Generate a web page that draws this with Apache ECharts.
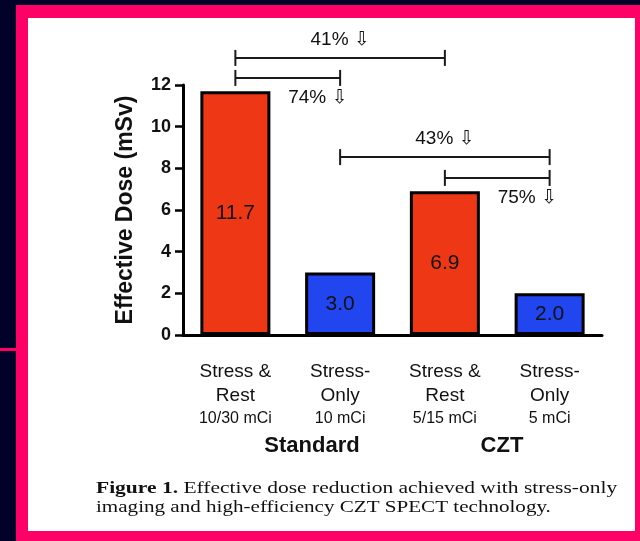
<!DOCTYPE html>
<html><head><meta charset="utf-8">
<script src="https://cdn.jsdelivr.net/npm/echarts@6/dist/echarts.min.js"></script>
<style>html,body{margin:0;padding:0;background:#02012a;}#c{width:640px;height:541px;}</style>
</head><body><div id="c"></div>
<script>
// ---- data ----
const catLine1 = ['Stress &', 'Stress-', 'Stress &', 'Stress-'];
const catLine2 = ['Rest', 'Only', 'Rest', 'Only'];
const catDose = ['10/30 mCi', '10 mCi', '5/15 mCi', '5 mCi'];
const doseValues = [11.7, 3.0, 6.9, 2.0];
const protocolType = ['rest', 'stress', 'rest', 'stress'];
const groupNames = ['Standard', 'CZT'];
const yMin = 0, yMax = 12, yStep = 2;
const yAxisTitle = 'Effective Dose (mSv)';
// reduction brackets (category index from/to, level in mSv)
const bracketFrom = [0, 0, 1, 2];
const bracketTo = [2, 1, 3, 3];
const bracketLevel = [13.3, 12.34, 8.54, 7.54];
const bracketText = ['41% \u21E9', '74% \u21E9', '43% \u21E9', '75% \u21E9'];
const bracketSide = ['above', 'below', 'above', 'below'];
const captionBold = 'Figure 1.';
const captionRest1 = ' Effective dose reduction achieved with stress-only';
const captionLine2 = 'imaging and high-efficiency CZT SPECT technology.';

// ---- styles ----
const SANS = '"Liberation Sans", Arial, "DejaVu Sans", sans-serif';
const SERIF = '"Liberation Serif", "Times New Roman", serif';
const colorFor = { rest: '#EE3714', stress: '#2145EE' };
const INK = '#111111';

const chart = echarts.init(document.getElementById('c'), null, { renderer: 'canvas' });

const categories = catLine1.map((_, i) => i);

chart.setOption({
  backgroundColor: '#02012a',
  animation: false,
  grid: { left: 183, right: 38, top: 85, bottom: 206, containLabel: false },
  xAxis: {
    type: 'category',
    data: categories,
    axisLine: { lineStyle: { color: '#000', width: 3 } },
    axisTick: { alignWithLabel: true, length: 8, lineStyle: { color: '#000', width: 2.5 } },
    axisLabel: {
      margin: 25,
      formatter: (v, i) => `{a|${catLine1[i]}}\n{a|${catLine2[i]}}\n{b|${catDose[i]}}`,
      rich: {
        a: { fontFamily: SANS, fontSize: 19, lineHeight: 24, color: INK },
        b: { fontFamily: SANS, fontSize: 16, lineHeight: 21, color: INK }
      }
    }
  },
  yAxis: {
    type: 'value', min: yMin, max: yMax, interval: yStep,
    name: yAxisTitle, nameLocation: 'middle', nameGap: 46, nameRotate: 90,
    nameTextStyle: { fontFamily: SANS, fontSize: 23, fontWeight: 'bold', color: INK },
    axisLine: { show: true, lineStyle: { color: '#000', width: 3 } },
    axisTick: { show: true, length: 8, lineStyle: { color: '#000', width: 2.5 } },
    axisLabel: { fontFamily: SANS, fontSize: 18, fontWeight: 'bold', color: INK, margin: 12 },
    splitLine: { show: false }
  },
  series: [
    {
      type: 'bar',
      barWidth: 70,
      data: doseValues.map((v, i) => ({
        value: v,
        itemStyle: { color: colorFor[protocolType[i]], borderColor: '#000', borderWidth: 3 }
      })),
      label: {
        show: true, position: 'inside', fontFamily: SANS, fontSize: 21, color: INK,
        formatter: p => p.value.toFixed(1)
      }
    },
    {
      type: 'custom',
      clip: false,
      encode: { x: 0, y: 1 },
      data: bracketLevel.map((v, i) => [bracketFrom[i], v, bracketTo[i]]),
      renderItem: (params, api) => {
        const i = params.dataIndex;
        const a = api.coord([api.value(0), api.value(1)]);
        const b = api.coord([api.value(2), api.value(1)]);
        const y = a[1], x1 = a[0], x2 = b[0], h = 8;
        const st = { stroke: '#1a1a1a', lineWidth: 2 };
        const above = bracketSide[i] === 'above';
        return {
          type: 'group',
          children: [
            { type: 'line', shape: { x1: x1, y1: y, x2: x2, y2: y }, style: st },
            { type: 'line', shape: { x1: x1, y1: y - h, x2: x1, y2: y + h }, style: st },
            { type: 'line', shape: { x1: x2, y1: y - h, x2: x2, y2: y + h }, style: st },
            {
              type: 'text',
              x: above ? (x1 + x2) / 2 : (x1 + x2) / 2 + 30,
              y: above ? y - 18 : y + 20,
              style: {
                text: bracketText[i], fontFamily: SANS, fontSize: 19, fill: INK,
                align: 'center', verticalAlign: 'middle'
              }
            }
          ]
        };
      }
    }
  ],
  graphic: [
    { type: 'rect', z: -10, shape: { x: 16, y: 5, width: 624, height: 536 }, style: { fill: '#FF0066' } },
    { type: 'rect', z: -10, shape: { x: 0, y: 348, width: 16, height: 3 }, style: { fill: '#FF0066' } },
    { type: 'rect', z: -9, shape: { x: 28, y: 18, width: 607, height: 513 }, style: { fill: '#ffffff' } },
    { type: 'text', x: 312, y: 446, style: { text: groupNames[0], fontFamily: SANS, fontSize: 22, fontWeight: 'bold', fill: INK, align: 'center', verticalAlign: 'middle' } },
    { type: 'text', x: 502, y: 446, style: { text: groupNames[1], fontFamily: SANS, fontSize: 22, fontWeight: 'bold', fill: INK, align: 'center', verticalAlign: 'middle' } },
    {
      type: 'text', x: 96, y: 489, scaleX: 1.265,
      style: {
        text: `{b|${captionBold}}{r|${captionRest1}}`,
        align: 'left', verticalAlign: 'middle',
        rich: {
          b: { fontFamily: SERIF, fontSize: 17, fontWeight: 'bold', fill: '#111' },
          r: { fontFamily: SERIF, fontSize: 17, fill: '#111' }
        }
      }
    },
    {
      type: 'text', x: 96, y: 508, scaleX: 1.24,
      style: { text: captionLine2, fontFamily: SERIF, fontSize: 17, fill: '#111', align: 'left', verticalAlign: 'middle' }
    }
  ]
});
</script>
</body></html>
